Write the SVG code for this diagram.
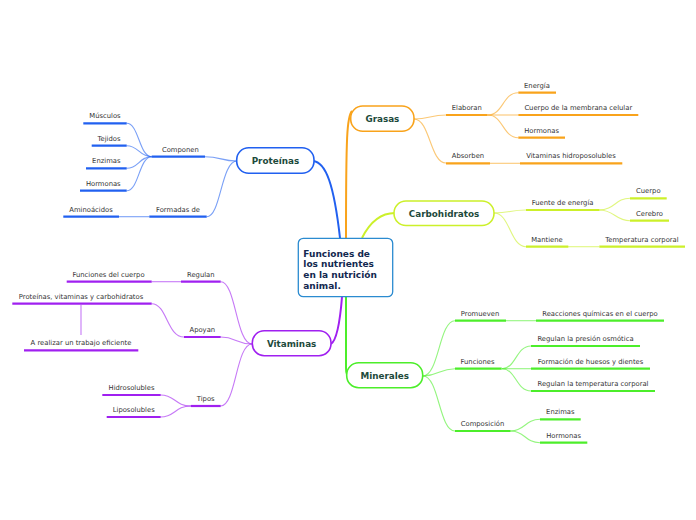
<svg xmlns="http://www.w3.org/2000/svg" width="696" height="520" viewBox="0 0 696 520">
<style>
.bg{fill:#fff}
.node rect{fill:#fff;stroke-width:1.6}
.nt{font-family:"DejaVu Sans",Verdana,sans-serif;font-weight:bold;font-size:8.8px;fill:#1d4a3b;text-anchor:middle}
.root rect{fill:#fff;stroke:#2b8bd0;stroke-width:1.3}
.rt{font-family:"DejaVu Sans",Verdana,sans-serif;font-weight:bold;font-size:9px;fill:#12284f}
.st{font-family:"DejaVu Sans",Verdana,sans-serif;font-size:6.8px;fill:#333;text-anchor:middle}
.ul{stroke-width:2.2;fill:none;stroke-linecap:butt}
.mc{fill:none;stroke-width:2}
.sc{fill:none;stroke-width:1.1;stroke-opacity:0.6}
.b{stroke:#2160f0}.o{stroke:#f9a31b}.y{stroke:#ccf02a}.p{stroke:#a020f0}.g{stroke:#4cee2a}
</style>
<rect class="bg" x="0" y="0" width="696" height="520"/>
<g id="connectors">
<path class="mc b" d="M313,161 C326,162 334,185 340,238"/>
<path class="mc o" d="M352,111 C347,116 346,135 346,238"/>
<path class="mc y" d="M395,213 C380,213 370,222 362,238"/>
<path class="mc p" d="M342,297 C340,322 337,340 331,344"/>
<path class="mc g" d="M346,297 L346,368 C346,373 347,376 349,376"/>
<path class="sc o" d="M414,119 C430,119 430,115 446,115"/>
<path class="sc o" d="M414,119 C430,119 430,163 446,163"/>
<path class="sc o" d="M488,115 C503,115 503,92.7 518,92.7"/>
<path class="sc o" d="M488,115 L518,115"/>
<path class="sc o" d="M488,115 C503,115 503,137.7 518,137.7"/>
<path class="sc o" d="M490,163.3 L520,163.3"/>
<path class="sc y" d="M494,213 C510,213 510,210 526,210"/>
<path class="sc y" d="M494,213 C510,213 510,246.7 526,246.7"/>
<path class="sc y" d="M599,210 C615,210 615,198.3 630,198.3"/>
<path class="sc y" d="M599,210 C615,210 615,220.7 630,220.7"/>
<path class="sc y" d="M568,246.7 L599,246.7"/>
<path class="sc g" d="M423,376 C439,376 439,320.7 455,320.7"/>
<path class="sc g" d="M423,376 C439,376 439,368.7 455,368.7"/>
<path class="sc g" d="M423,376 C439,376 439,431 455,431"/>
<path class="sc g" d="M506,320.7 L536,320.7"/>
<path class="sc g" d="M502,368.7 C516,368.7 516,346 531,346"/>
<path class="sc g" d="M502,368.7 L531,368.7"/>
<path class="sc g" d="M502,368.7 C516,368.7 516,391 531,391"/>
<path class="sc g" d="M511,431 C525,431 525,419.3 540,419.3"/>
<path class="sc g" d="M511,431 C525,431 525,442.7 540,442.7"/>
<path class="sc b" d="M237,161 C221,161 221,156.7 205,156.7"/>
<path class="sc b" d="M237,161 C221,161 221,216.7 206.7,216.7"/>
<path class="sc b" d="M151.7,156.7 C139,156.7 139,123.3 126.7,123.3"/>
<path class="sc b" d="M151.7,156.7 C139,156.7 139,145.7 126.7,145.7"/>
<path class="sc b" d="M151.7,156.7 C139,156.7 139,168.3 126.7,168.3"/>
<path class="sc b" d="M151.7,156.7 C139,156.7 139,190.7 126.7,190.7"/>
<path class="sc b" d="M149.3,216.7 L119,216.7"/>
<path class="sc p" d="M252,344 C236,344 236,281.7 220.7,281.7"/>
<path class="sc p" d="M252,344 C236,344 236,337 220.7,337"/>
<path class="sc p" d="M252,344 C236,344 236,406 220.7,406"/>
<path class="sc p" d="M181,281.7 L151.7,281.7"/>
<path class="sc p" d="M184,337 C167,337 167,303.7 151.7,303.7"/>
<path class="sc p" d="M81,305 L81,335"/>
<path class="sc p" d="M190.7,406 C175,406 175,395 160.7,395"/>
<path class="sc p" d="M190.7,406 C175,406 175,417 160.7,417"/>
</g>
<g id="root" class="root">
<rect x="298.3" y="238.3" width="94.4" height="58.4" rx="5"/>
<text class="rt" x="303.3" y="256.5">Funciones de</text>
<text class="rt" x="303.3" y="267.2">los nutrientes</text>
<text class="rt" x="303.3" y="277.9">en la nutrición</text>
<text class="rt" x="303.3" y="288.5">animal.</text>
</g>
<g id="grasas" class="node"><rect class="o" x="350.7" y="106" width="63.3" height="25.3" rx="12"/><text class="nt" x="382.4" y="122">Grasas</text></g>
<g id="proteinas" class="node"><rect class="b" x="236.7" y="147.7" width="77.3" height="25.6" rx="12"/><text class="nt" x="275.4" y="163.8">Proteínas</text></g>
<g id="carbohidratos" class="node"><rect class="y" x="394" y="201" width="100" height="24.5" rx="12"/><text class="nt" x="444" y="216.5">Carbohidratos</text></g>
<g id="vitaminas" class="node"><rect class="p" x="252.3" y="330.7" width="78.7" height="25" rx="12"/><text class="nt" x="291.6" y="346.5">Vitaminas</text></g>
<g id="minerales" class="node"><rect class="g" x="346.7" y="362.7" width="76" height="25" rx="12"/><text class="nt" x="384.7" y="378.5">Minerales</text></g>
<g id="elaboran"><path class="ul o" d="M446,115 H487.7"/><text class="st" x="466.8" y="110">Elaboran</text></g>
<g id="absorben"><path class="ul o" d="M446,163.3 H490"/><text class="st" x="468" y="158.3">Absorben</text></g>
<g id="energia"><path class="ul o" d="M518.3,92.7 H556"/><text class="st" x="537" y="87.7">Energía</text></g>
<g id="cuerpo-membrana"><path class="ul o" d="M518.3,115 H638.3"/><text class="st" x="578.3" y="110">Cuerpo de la membrana celular</text></g>
<g id="hormonas-g"><path class="ul o" d="M518.3,137.7 H565"/><text class="st" x="541.6" y="132.7">Hormonas</text></g>
<g id="vit-hidro"><path class="ul o" d="M520,163.3 H622.3"/><text class="st" x="571" y="158.3">Vitaminas hidroposolubles</text></g>
<g id="fuente"><path class="ul y" d="M526,210 H599.3"/><text class="st" x="562.6" y="205">Fuente de energía</text></g>
<g id="mantiene"><path class="ul y" d="M526,246.7 H568.3"/><text class="st" x="547" y="241.7">Mantiene</text></g>
<g id="cuerpo"><path class="ul y" d="M630,198.3 H666.7"/><text class="st" x="648.3" y="193.3">Cuerpo</text></g>
<g id="cerebro"><path class="ul y" d="M630,220.7 H669"/><text class="st" x="649.5" y="215.7">Cerebro</text></g>
<g id="temperatura"><path class="ul y" d="M599.3,246.7 H685"/><text class="st" x="642" y="241.7">Temperatura corporal</text></g>
<g id="promueven"><path class="ul g" d="M455,320.7 H506"/><text class="st" x="480" y="315.7">Promueven</text></g>
<g id="funciones"><path class="ul g" d="M455,368.7 H501.7"/><text class="st" x="477.5" y="363.7">Funciones</text></g>
<g id="composicion"><path class="ul g" d="M455,431 H510.7"/><text class="st" x="482.5" y="426">Composición</text></g>
<g id="reacciones"><path class="ul g" d="M536,320.7 H664"/><text class="st" x="600" y="315.7">Reacciones químicas en el cuerpo</text></g>
<g id="presion"><path class="ul g" d="M531,346 H640"/><text class="st" x="585.5" y="341">Regulan la presión osmótica</text></g>
<g id="huesos"><path class="ul g" d="M531,368.7 H650"/><text class="st" x="590.5" y="363.7">Formación de huesos y dientes</text></g>
<g id="temp-m"><path class="ul g" d="M531,391 H655"/><text class="st" x="593" y="386">Regulan la temperatura corporal</text></g>
<g id="enzimas-m"><path class="ul g" d="M540,419.3 H580.7"/><text class="st" x="560.3" y="414.3">Enzimas</text></g>
<g id="hormonas-m"><path class="ul g" d="M540,442.7 H587.3"/><text class="st" x="563.6" y="437.7">Hormonas</text></g>
<g id="componen"><path class="ul b" d="M151.7,156.7 H205"/><text class="st" x="180.3" y="151.7">Componen</text></g>
<g id="formadas"><path class="ul b" d="M149.3,216.7 H206.7"/><text class="st" x="178" y="211.7">Formadas de</text></g>
<g id="musculos"><path class="ul b" d="M83.3,123.3 H126.7"/><text class="st" x="105" y="118.3">Músculos</text></g>
<g id="tejidos"><path class="ul b" d="M91.7,145.7 H126.7"/><text class="st" x="109" y="140.7">Tejidos</text></g>
<g id="enzimas-p"><path class="ul b" d="M86,168.3 H126.7"/><text class="st" x="106.3" y="163.3">Enzimas</text></g>
<g id="hormonas-p"><path class="ul b" d="M80,190.7 H126.7"/><text class="st" x="103.3" y="185.7">Hormonas</text></g>
<g id="aminoacidos"><path class="ul b" d="M63.3,216.7 H119"/><text class="st" x="91" y="211.7">Aminoácidos</text></g>
<g id="regulan"><path class="ul p" d="M181,281.7 H220.7"/><text class="st" x="200.8" y="276.7">Regulan</text></g>
<g id="apoyan"><path class="ul p" d="M184,337 H220.7"/><text class="st" x="202.3" y="332">Apoyan</text></g>
<g id="tipos"><path class="ul p" d="M190.7,406 H220.7"/><text class="st" x="205.7" y="401">Tipos</text></g>
<g id="funciones-cuerpo"><path class="ul p" d="M66.7,281.7 H151.7"/><text class="st" x="108.5" y="276.7">Funciones del cuerpo</text></g>
<g id="prot-vit-carb"><path class="ul p" d="M12.3,303.7 H151.7"/><text class="st" x="81" y="298.7">Proteínas, vitaminas y carbohidratos</text></g>
<g id="trabajo"><path class="ul p" d="M24,350.3 H138.3"/><text class="st" x="81" y="345.3">A realizar un trabajo eficiente</text></g>
<g id="hidrosolubles"><path class="ul p" d="M102.3,395 H160.7"/><text class="st" x="131.5" y="390">Hidrosolubles</text></g>
<g id="liposolubles"><path class="ul p" d="M106.7,417 H160.7"/><text class="st" x="133.7" y="412">Liposolubles</text></g>
</svg>
